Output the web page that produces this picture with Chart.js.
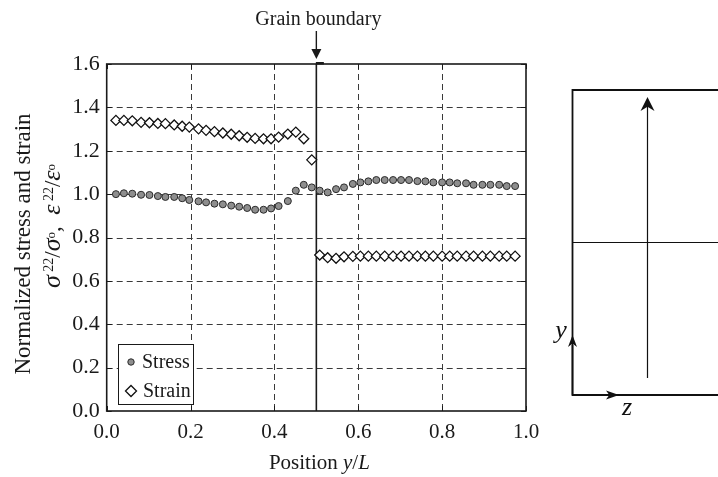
<!DOCTYPE html>
<html>
<head>
<meta charset="utf-8">
<script src="https://cdn.jsdelivr.net/npm/chart.js@4.4.0/dist/chart.umd.min.js"></script>
<style>
  html, body { margin: 0; padding: 0; background: #fff; }
  #wrap { position: relative; width: 718px; height: 477px; }
</style>
</head>
<body>
<div id="wrap"><canvas id="profileChart" width="718" height="477"></canvas></div>
<script>
// Sampling positions along the line (y/L)
const positions = [
  0.022, 0.041, 0.061, 0.082, 0.102, 0.122, 0.140, 0.161, 0.180, 0.197,
  0.219, 0.237, 0.257, 0.277, 0.297, 0.316, 0.335, 0.354, 0.374, 0.392,
  0.410, 0.432, 0.451, 0.470, 0.489, 0.508, 0.527, 0.547, 0.566, 0.587,
  0.605, 0.624, 0.643, 0.663, 0.683, 0.702, 0.721, 0.741, 0.760, 0.779,
  0.800, 0.818, 0.836, 0.857, 0.875, 0.896, 0.915, 0.936, 0.954, 0.974
];

// Normalized stress sigma22/sigma0
const stress = [
  1.000, 1.004, 1.002, 0.997, 0.996, 0.991, 0.987, 0.987, 0.981, 0.973,
  0.967, 0.962, 0.956, 0.953, 0.947, 0.942, 0.936, 0.928, 0.928, 0.934,
  0.945, 0.968, 1.016, 1.043, 1.031, 1.016, 1.008, 1.023, 1.031, 1.047,
  1.054, 1.059, 1.065, 1.065, 1.065, 1.065, 1.065, 1.060, 1.059, 1.054,
  1.054, 1.054, 1.050, 1.050, 1.043, 1.043, 1.043, 1.043, 1.037, 1.037
];

// Normalized strain eps22/eps0
const strain = [
  1.340, 1.340, 1.338, 1.331, 1.329, 1.326, 1.325, 1.319, 1.313, 1.309,
  1.301, 1.294, 1.288, 1.282, 1.276, 1.269, 1.262, 1.257, 1.255, 1.255,
  1.263, 1.277, 1.286, 1.255, 1.158, 0.719, 0.707, 0.704, 0.711, 0.713,
  0.714, 0.714, 0.714, 0.714, 0.714, 0.714, 0.714, 0.714, 0.714, 0.714,
  0.714, 0.714, 0.714, 0.714, 0.714, 0.714, 0.714, 0.714, 0.714, 0.714
];

const xTicks = [0, 0.2, 0.4, 0.6, 0.8, 1.0];
const yTicks = [0, 0.2, 0.4, 0.6, 0.8, 1.0, 1.2, 1.4, 1.6];
const boundaryAt = 0.5;
const seriesNames = ['Stress', 'Strain'];

const serif = "'Liberation Serif', 'Times New Roman', serif";
const ink = '#1a1a1a';

// draws a run of text pieces (normal / italic / raised), centred on cx
function drawRich(ctx, pieces, cx, cy) {
  let total = 0;
  pieces.forEach(p => {
    ctx.font = (p.italic ? 'italic ' : '') + p.size + 'px ' + serif;
    p.w = ctx.measureText(p.text).width;
    total += p.w;
  });
  let x = cx - total / 2;
  ctx.textAlign = 'left';
  ctx.textBaseline = 'alphabetic';
  pieces.forEach(p => {
    ctx.font = (p.italic ? 'italic ' : '') + p.size + 'px ' + serif;
    ctx.fillText(p.text, x, cy - (p.rise || 0));
    x += p.w;
  });
}

function arrowHead(ctx, tipX, tipY, dir, len, half) {
  // dir: 'up' | 'down' | 'right'
  ctx.beginPath();
  if (dir === 'up') {
    ctx.moveTo(tipX, tipY);
    ctx.lineTo(tipX - half, tipY + len);
    ctx.lineTo(tipX, tipY + len * 0.7);
    ctx.lineTo(tipX + half, tipY + len);
  } else if (dir === 'down') {
    ctx.moveTo(tipX, tipY);
    ctx.lineTo(tipX - half, tipY - len);
    ctx.lineTo(tipX + half, tipY - len);
  } else {
    ctx.moveTo(tipX, tipY);
    ctx.lineTo(tipX - len, tipY - half);
    ctx.lineTo(tipX - len * 0.75, tipY);
    ctx.lineTo(tipX - len, tipY + half);
  }
  ctx.closePath();
  ctx.fill();
}

const plotDecor = {
  id: 'plotDecor',
  beforeDatasetsDraw(chart) {
    const { ctx, chartArea: a, scales: { x, y } } = chart;
    ctx.save();
    // dashed grid at interior ticks
    ctx.strokeStyle = '#3a3a3a';
    ctx.lineWidth = 1;
    ctx.setLineDash([6, 4]);
    xTicks.slice(1, -1).forEach(v => {
      const px = Math.round(x.getPixelForValue(v)) + 0.5;
      ctx.beginPath(); ctx.moveTo(px, a.top); ctx.lineTo(px, a.bottom); ctx.stroke();
    });
    yTicks.slice(1, -1).forEach(v => {
      const py = Math.round(y.getPixelForValue(v)) + 0.5;
      ctx.beginPath(); ctx.moveTo(a.left, py); ctx.lineTo(a.right, py); ctx.stroke();
    });
    ctx.setLineDash([]);
    // inward tick marks
    ctx.strokeStyle = ink;
    xTicks.forEach(v => {
      const px = Math.round(x.getPixelForValue(v)) + 0.5;
      ctx.beginPath();
      ctx.moveTo(px, a.bottom); ctx.lineTo(px, a.bottom - 5);
      ctx.moveTo(px, a.top); ctx.lineTo(px, a.top + 5);
      ctx.stroke();
    });
    yTicks.forEach(v => {
      const py = Math.round(y.getPixelForValue(v)) + 0.5;
      ctx.beginPath();
      ctx.moveTo(a.left, py); ctx.lineTo(a.left + 5, py);
      ctx.moveTo(a.right, py); ctx.lineTo(a.right - 5, py);
      ctx.stroke();
    });
    // grain boundary
    const bx = x.getPixelForValue(boundaryAt);
    ctx.lineWidth = 1.6;
    ctx.beginPath(); ctx.moveTo(bx, a.top); ctx.lineTo(bx, a.bottom); ctx.stroke();
    ctx.restore();
  },
  afterDraw(chart) {
    const { ctx, chartArea: a, scales: { x } } = chart;
    const ds = chart.data.datasets;
    ctx.save();
    ctx.fillStyle = ink;
    ctx.strokeStyle = ink;

    // frame
    ctx.lineWidth = 1.6;
    ctx.strokeRect(a.left, a.top, a.right - a.left, a.bottom - a.top);

    // grain boundary marker above the frame
    const bx = x.getPixelForValue(boundaryAt);
    ctx.fillRect(bx - 0.5, a.top - 2, 8, 2.5);
    ctx.lineWidth = 1.4;
    ctx.beginPath(); ctx.moveTo(bx, 31); ctx.lineTo(bx, 50); ctx.stroke();
    arrowHead(ctx, bx, 59, 'down', 10, 5);
    ctx.font = '20px ' + serif;
    ctx.textAlign = 'center';
    ctx.textBaseline = 'alphabetic';
    ctx.fillText('Grain boundary', bx + 2, 25);

    // legend box
    const lx = 118.5, ly = 344.5, lw = 75, lh = 60;
    ctx.fillStyle = '#fff';
    ctx.fillRect(lx, ly, lw, lh);
    ctx.lineWidth = 1;
    ctx.strokeStyle = ink;
    ctx.strokeRect(lx, ly, lw, lh);
    const rows = [362, 391];
    ds.forEach((d, i) => {
      ctx.fillStyle = d.pointBackgroundColor;
      ctx.strokeStyle = d.pointBorderColor;
      ctx.lineWidth = d.pointBorderWidth;
      ctx.beginPath();
      if (d.pointStyle === 'circle') {
        ctx.arc(131, rows[i], 3.2, 0, Math.PI * 2);
      } else {
        ctx.moveTo(125.5, rows[i]); ctx.lineTo(131, rows[i] - 5.5);
        ctx.lineTo(136.5, rows[i]); ctx.lineTo(131, rows[i] + 5.5);
        ctx.closePath();
      }
      ctx.fill(); ctx.stroke();
      ctx.fillStyle = ink;
      ctx.font = '20px ' + serif;
      ctx.textAlign = 'left';
      ctx.textBaseline = 'middle';
      ctx.fillText(seriesNames[i], i === 0 ? 142 : 143, rows[i] + 1);
    });

    // x axis title
    ctx.fillStyle = ink;
    drawRich(ctx, [
      { text: 'Position ', size: 21 },
      { text: 'y', size: 21, italic: true },
      { text: '/', size: 21 },
      { text: 'L', size: 21, italic: true }
    ], (a.left + a.right) / 2 + 3, 469);

    // y axis title, two rotated lines
    ctx.save();
    ctx.translate(30, 244);
    ctx.rotate(-Math.PI / 2);
    ctx.font = '23px ' + serif;
    ctx.textAlign = 'center';
    ctx.textBaseline = 'alphabetic';
    ctx.fillText('Normalized stress and strain', 0, 0);
    ctx.restore();
    ctx.save();
    ctx.translate(60, 226);
    ctx.rotate(-Math.PI / 2);
    drawRich(ctx, [
      { text: '\u03c3', size: 26, italic: true },
      { text: ' 22', size: 14, rise: 7 },
      { text: '/', size: 23 },
      { text: '\u03c3', size: 26, italic: true },
      { text: 'o', size: 13, rise: 5 },
      { text: ',  ', size: 23 },
      { text: '\u03b5', size: 26, italic: true },
      { text: ' 22', size: 14, rise: 7 },
      { text: '/', size: 23 },
      { text: '\u03b5', size: 26, italic: true },
      { text: 'o', size: 13, rise: 5 }
    ], 0, 0);
    ctx.restore();

    // specimen sketch on the right
    ctx.strokeStyle = '#111';
    ctx.fillStyle = '#111';
    ctx.lineWidth = 1.8;
    ctx.beginPath();
    ctx.moveTo(718, 90); ctx.lineTo(572.5, 90); ctx.lineTo(572.5, 395); ctx.lineTo(718, 395);
    ctx.stroke();
    ctx.lineWidth = 1;
    ctx.beginPath(); ctx.moveTo(572.5, 242.5); ctx.lineTo(718, 242.5); ctx.stroke();
    ctx.lineWidth = 1.2;
    ctx.beginPath(); ctx.moveTo(647.5, 378); ctx.lineTo(647.5, 105); ctx.stroke();
    arrowHead(ctx, 647.5, 97, 'up', 14, 7);
    ctx.lineWidth = 1.6;
    ctx.beginPath(); ctx.moveTo(572.5, 395); ctx.lineTo(572.5, 345); ctx.stroke();
    arrowHead(ctx, 572.5, 335, 'up', 12, 4.5);
    ctx.beginPath(); ctx.moveTo(572.5, 395); ctx.lineTo(610, 395); ctx.stroke();
    arrowHead(ctx, 619, 395, 'right', 13, 4.5);
    ctx.font = 'italic 26px ' + serif;
    ctx.textAlign = 'center';
    ctx.textBaseline = 'alphabetic';
    ctx.fillText('y', 561, 338);
    ctx.fillText('z', 627, 415);
    ctx.restore();
  }
};

const points = vals => positions.map((p, i) => ({ x: p, y: vals[i] }));

new Chart(document.getElementById('profileChart').getContext('2d'), {
  type: 'scatter',
  data: {
    datasets: [{
      label: seriesNames[0],
      data: points(stress),
      pointStyle: 'circle',
      pointRadius: 3.5,
      pointBackgroundColor: '#8e8e8e',
      pointBorderColor: '#2a2a2a',
      pointBorderWidth: 1
    }, {
      label: seriesNames[1],
      data: points(strain),
      pointStyle: 'rectRot',
      pointRadius: 5,
      pointBackgroundColor: '#ffffff',
      pointBorderColor: '#111111',
      pointBorderWidth: 1.3
    }]
  },
  options: {
    responsive: false,
    animation: false,
    events: [],
    layout: { padding: { top: 64, right: 192, left: 0, bottom: 0 } },
    plugins: {
      legend: { display: false },
      tooltip: { enabled: false }
    },
    scales: {
      x: {
        type: 'linear',
        min: 0,
        max: 1,
        afterBuildTicks: s => { s.ticks = xTicks.map(v => ({ value: v })); },
        afterFit: s => { s.height = 66; },
        grid: { display: false, drawTicks: false },
        border: { display: false },
        ticks: {
          font: { family: serif, size: 21 },
          color: ink,
          padding: 9,
          maxRotation: 0,
          autoSkip: false,
          callback: v => v.toFixed(1)
        }
      },
      y: {
        type: 'linear',
        min: 0,
        max: 1.6,
        afterBuildTicks: s => { s.ticks = yTicks.map(v => ({ value: v })); },
        afterFit: s => { s.width = 106.7; },
        grid: { display: false, drawTicks: false },
        border: { display: false },
        ticks: {
          font: { family: serif, size: 22 },
          color: ink,
          padding: 7,
          autoSkip: false,
          callback: v => v.toFixed(1)
        }
      }
    }
  },
  plugins: [plotDecor]
});
</script>
</body>
</html>
